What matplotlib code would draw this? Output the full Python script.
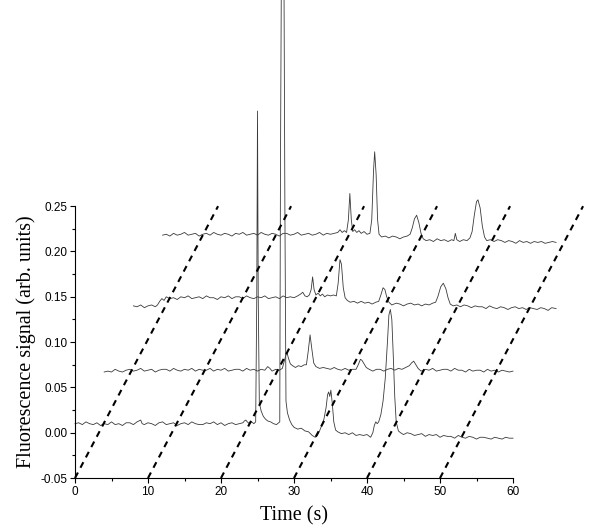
import numpy as np
import matplotlib
matplotlib.use("Agg")
import matplotlib.pyplot as plt
from matplotlib.ticker import MultipleLocator, FormatStrFormatter

# signal values are in 1e-3 arb. units
trace_1 = [(0, 10), (0.5, 11), (1, 9), (1.5, 12), (2, 10), (2.5, 9), (3, 11), (3.5, 8), (4, 10), (4.5, 9),
           (5, 12), (5.5, 9), (6, 10), (6.5, 8), (7, 11), (7.5, 11), (8, 9), (8.5, 12), (9, 14), (9.2, 10),
           (9.5, 9), (10, 11), (10.5, 10), (11, 8), (11.5, 11), (12, 12), (12.5, 9), (13, 10), (13.5, 11),
           (14, 8), (14.5, 10), (15, 11), (15.5, 9), (16, 12), (16.5, 10), (17, 9), (17.5, 9), (18, 11),
           (18.5, 10), (19, 12), (19.5, 9), (20, 11), (20.5, 8), (21, 10), (21.5, 11), (22, 9), (22.5, 10),
           (23, 11), (23.2, 13), (23.4, 14), (23.6, 12), (23.9, 10), (24.2, 12), (24.5, 10), (24.75, 12),
           (24.9, 150), (25.0, 355), (25.1, 150), (25.25, 33), (25.5, 24), (25.8, 18), (26.1, 15), (26.4, 13),
           (26.8, 12), (27.2, 10), (27.6, 9), (27.9, 11), (28.05, 12), (28.15, 300), (28.3, 560), (28.6, 560),
           (28.75, 250), (28.9, 35), (29.1, 22), (29.4, 14), (29.7, 9), (30, 6), (30.5, 4), (31, 5), (31.5, 2),
           (32, 1), (32.5, -3), (32.9, -5), (33.2, -3), (33.5, 2), (33.8, 8), (34.1, 15), (34.4, 28), (34.6, 42),
           (34.75, 45), (34.9, 40), (35.05, 47), (35.25, 32), (35.45, 12), (35.7, 3), (36, 1), (36.5, -1),
           (37, 0), (37.5, -2), (38, 0), (38.5, -3), (39, -2), (39.5, -3), (40, -2), (40.5, -5), (40.8, 0),
           (41.0, 8), (41.2, 12), (41.4, 10), (41.6, 12), (41.9, 20), (42.2, 35), (42.5, 60), (42.8, 100),
           (43.0, 130), (43.2, 136), (43.4, 125), (43.6, 85), (43.8, 40), (44.0, 12), (44.3, 2), (44.6, 0),
           (45, -2), (45.5, 0), (46, -1), (46.5, -3), (47, -2), (47.5, -1), (48, -4), (48.5, -2), (49, -3),
           (49.5, -2), (50, -5), (50.5, -3), (51, -4), (51.5, -4), (52, -6), (52.5, -3), (53, -5), (53.5, -6),
           (54, -4), (54.5, -5), (55, -7), (55.5, -5), (56, -5), (56.5, -6), (57, -7), (57.5, -5), (58, -6),
           (58.5, -7), (59, -5), (59.5, -6), (60, -6)]

trace_2 = [(4, 67), (4.5, 68), (5, 67), (5.5, 70), (6, 68), (6.5, 67), (7, 69), (7.5, 70), (8, 68), (8.5, 69),
           (9, 71), (9.5, 68), (10, 69), (10.5, 70), (11, 67), (11.5, 69), (12, 70), (12.5, 70), (13, 68),
           (13.5, 71), (14, 69), (14.5, 68), (15, 70), (15.5, 69), (16, 71), (16.5, 68), (17, 70), (17.5, 69),
           (18, 69), (18.5, 71), (19, 68), (19.5, 70), (20, 69), (20.5, 71), (21, 68), (21.5, 69), (22, 70),
           (22.5, 70), (23, 68), (23.5, 71), (24, 69), (24.5, 70), (25, 68), (25.5, 70), (26, 69), (26.4, 73),
           (26.7, 71), (27, 68), (27.5, 70), (28, 69), (28.4, 71), (28.7, 80), (28.9, 86), (29.05, 88),
           (29.25, 82), (29.5, 76), (29.8, 74), (30.2, 72), (30.6, 74), (31, 73), (31.4, 75), (31.7, 75),
           (31.95, 90), (32.2, 108), (32.45, 92), (32.7, 77), (33, 73), (33.5, 71), (34, 72), (34.5, 71),
           (35, 70), (35.5, 72), (36, 70), (36.5, 69), (37, 71), (37.5, 69), (38, 70), (38.5, 70), (38.8, 75),
           (39.1, 81), (39.3, 80), (39.6, 76), (39.9, 72), (40.3, 70), (40.8, 68), (41.3, 70), (41.8, 70),
           (42.3, 68), (42.8, 70), (43.3, 71), (43.8, 69), (44.3, 71), (44.8, 70), (45.3, 72), (45.8, 74),
           (46.1, 77), (46.4, 79), (46.7, 75), (47, 71), (47.4, 68), (48, 70), (48.5, 69), (49, 71), (49.5, 68),
           (50, 69), (50.5, 70), (51, 70), (51.5, 68), (52, 71), (52.5, 69), (53, 69), (53.5, 67), (54, 70),
           (54.5, 68), (55, 69), (55.5, 69), (56, 67), (56.5, 70), (57, 68), (57.5, 69), (58, 67), (58.5, 69),
           (59, 68), (59.5, 67), (60, 68)]

trace_3 = [(8, 140), (8.5, 139), (9, 141), (9.5, 138), (10, 140), (10.5, 141), (11, 139), (11.3, 141),
           (11.6, 145), (11.9, 148), (12.2, 146), (12.5, 150), (13, 148), (13.5, 149), (14, 147), (14.5, 150),
           (15, 149), (15.5, 151), (16, 148), (16.5, 149), (17, 150), (17.5, 148), (18, 151), (18.5, 149),
           (19, 149), (19.5, 147), (20, 150), (20.5, 149), (21, 151), (21.5, 148), (22, 150), (22.5, 150),
           (23, 148), (23.5, 151), (24, 149), (24.5, 148), (25, 150), (25.5, 149), (26, 151), (26.5, 148),
           (27, 149), (27.5, 150), (28, 148), (28.5, 151), (29, 149), (29.5, 150), (30, 149), (30.5, 151),
           (30.9, 153), (31.2, 155), (31.5, 151), (31.8, 150), (32.1, 152), (32.35, 158), (32.55, 172),
           (32.75, 158), (33, 152), (33.3, 154), (33.6, 151), (33.9, 153), (34.2, 150), (34.6, 152), (35, 151),
           (35.4, 152), (35.8, 151), (36.05, 165), (36.3, 191), (36.5, 186), (36.75, 160), (37, 149),
           (37.3, 146), (37.7, 144), (38.2, 145), (38.7, 143), (39.2, 145), (39.7, 143), (40.2, 144),
           (40.7, 142), (41.2, 144), (41.6, 145), (41.9, 152), (42.2, 160), (42.45, 158), (42.7, 150), (43, 144),
           (43.4, 141), (44, 143), (44.5, 142), (45, 140), (45.5, 142), (46, 143), (46.5, 141), (47, 142),
           (47.5, 140), (48, 142), (48.5, 141), (49, 143), (49.4, 144), (49.7, 150), (50.1, 161), (50.45, 165),
           (50.8, 159), (51.1, 149), (51.4, 142), (51.8, 140), (52.3, 141), (52.8, 139), (53.3, 141),
           (53.8, 140), (54.3, 138), (54.8, 140), (55.3, 139), (55.8, 139), (56.3, 137), (56.8, 140),
           (57.3, 138), (57.8, 137), (58.3, 139), (58.8, 138), (59.3, 136), (59.8, 138), (60.3, 139),
           (60.8, 137), (61.3, 138), (61.8, 136), (62.3, 138), (62.8, 137), (63.3, 136), (63.8, 138),
           (64.3, 137), (64.8, 135), (65.3, 138), (65.9, 137)]

trace_4 = [(12, 218), (12.5, 219), (13, 217), (13.5, 220), (14, 218), (14.5, 219), (15, 221), (15.5, 218),
           (16, 219), (16.5, 220), (17, 217), (17.5, 219), (18, 220), (18.5, 218), (19, 221), (19.5, 219),
           (20, 218), (20.5, 220), (21, 219), (21.5, 217), (22, 220), (22.5, 219), (23, 221), (23.5, 218),
           (24, 219), (24.5, 220), (25, 218), (25.5, 221), (26, 219), (26.5, 218), (27, 220), (27.5, 219),
           (28, 217), (28.5, 220), (29, 220), (29.5, 218), (30, 219), (30.5, 221), (31, 218), (31.5, 219),
           (32, 220), (32.5, 218), (33, 219), (33.5, 221), (34, 218), (34.5, 220), (35, 219), (35.5, 220),
           (36, 221), (36.3, 224), (36.6, 221), (36.9, 223), (37.2, 221), (37.45, 235), (37.65, 264),
           (37.85, 235), (38.05, 222), (38.3, 224), (38.6, 221), (38.9, 223), (39.2, 220), (39.6, 222),
           (40, 219), (40.4, 220), (40.65, 235), (40.9, 290), (41.05, 310), (41.25, 285), (41.45, 235),
           (41.65, 219), (42, 216), (42.5, 217), (43, 215), (43.5, 217), (44, 216), (44.5, 214), (45, 216),
           (45.5, 217), (45.9, 219), (46.2, 226), (46.5, 236), (46.8, 240), (47.1, 232), (47.4, 220),
           (47.7, 214), (48.1, 212), (48.6, 213), (49.1, 211), (49.6, 214), (50.1, 212), (50.6, 213),
           (51.1, 211), (51.6, 213), (51.9, 212), (52.1, 220), (52.3, 213), (52.7, 211), (53.2, 213),
           (53.7, 212), (54.1, 215), (54.4, 222), (54.7, 240), (55.0, 255), (55.2, 257), (55.5, 248),
           (55.8, 228), (56.1, 216), (56.4, 212), (56.9, 213), (57.4, 211), (57.9, 213), (58.4, 212),
           (58.9, 210), (59.4, 212), (59.9, 211), (60.4, 209), (60.9, 212), (61.4, 210), (61.9, 211),
           (62.4, 209), (62.9, 211), (63.4, 210), (63.9, 211), (64.4, 209), (64.9, 210), (65.4, 211),
           (65.9, 210)]

# start times of the dashed time guides, and how long each takes to climb the axis
guide_starts = [0, 10, 20, 30, 40, 50]
guide_run = 19.6

fig = plt.figure(figsize=(6, 5.3), dpi=100)
ax = fig.add_axes([0.125, 0.098, 0.73, 0.513])

for tr in [trace_1, trace_2, trace_3, trace_4]:
    t, s = np.array(tr, dtype=float).T
    ax.plot(t, s / 1000.0, color="#3a3a3a", lw=0.6, clip_on=False, zorder=2)

for x0 in guide_starts:
    ax.plot([x0, x0 + guide_run], [-0.05, 0.25], color="k", lw=1.5,
            ls=(0, (3, 2.6)), clip_on=False, zorder=3)

ax.set_xlim(0, 60)
ax.set_ylim(-0.05, 0.25)
ax.spines["top"].set_visible(False)
ax.spines["right"].set_visible(False)
ax.spines["left"].set_linewidth(0.8)
ax.spines["bottom"].set_linewidth(0.8)

ax.xaxis.set_major_locator(MultipleLocator(10))
ax.xaxis.set_minor_locator(MultipleLocator(5))
ax.yaxis.set_major_locator(MultipleLocator(0.05))
ax.yaxis.set_minor_locator(MultipleLocator(0.025))
ax.yaxis.set_major_formatter(FormatStrFormatter("%.2f"))
ax.tick_params(which="major", direction="out", length=3.5, width=0.8, labelsize=8.5, pad=2)
ax.tick_params(which="minor", direction="out", length=2.5, width=0.8)
for lab in ax.get_xticklabels() + ax.get_yticklabels():
    lab.set_family("Liberation Sans")

ax.set_xlabel("Time (s)", family="Liberation Serif", fontsize=14.5, labelpad=6)
ax.set_ylabel("Fluorescence signal (arb. units)", family="Liberation Serif", fontsize=14.5, labelpad=3)

fig.savefig("out.png", dpi=100)
